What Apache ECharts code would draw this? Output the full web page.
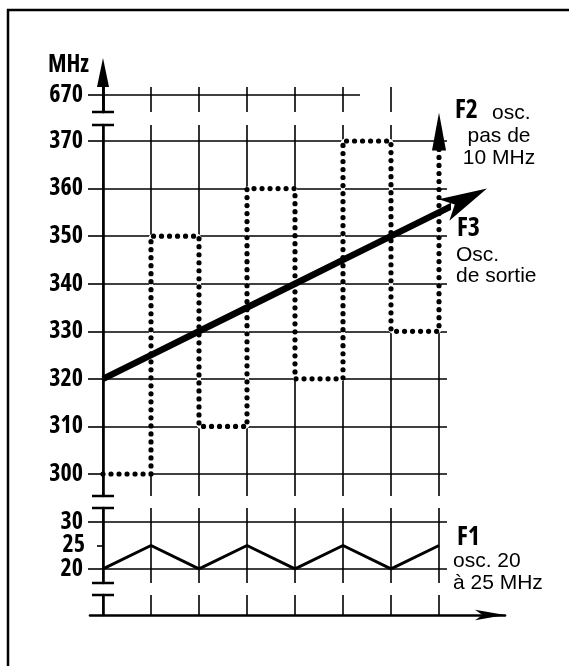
<!DOCTYPE html>
<html>
<head>
<meta charset="utf-8">
<script src="https://cdn.jsdelivr.net/npm/echarts@6/dist/echarts.min.js"></script>
<style>
  html, body { margin: 0; padding: 0; background: #fff; }
  #chart { width: 569px; height: 666px; }
</style>
</head>
<body>
<div id="chart"></div>
<script>
// columns of the diagram (time steps), index 0..7
const columns = [0, 1, 2, 3, 4, 5, 6, 7]
// F2: 10 MHz step oscillator, [column, MHz] (drawn as steps)
const f2Points = [[0, 300], [1, 350], [2, 310], [3, 360], [4, 320], [5, 370], [6, 330], [7, 372]]
// F3: output oscillator, [column, MHz]
const f3Points = [[0, 320], [1, 325], [2, 330], [3, 335], [4, 340], [5, 345], [6, 350], [7, 355], [8, 360]]
// F1: 20 to 25 MHz oscillator, [column, MHz]
const f1Points = [[0, 20], [1, 25], [2, 20], [3, 25], [4, 20], [5, 25], [6, 20], [7, 25]]
// tick labels
const topTicks = [670]
const upperTicks = [300, 310, 320, 330, 340, 350, 360, 370]
const lowerTicks = [20, 30]
const midTick = [25]

const black = '#000'
const tickFont = "'Open Sans', 'DejaVu Sans Condensed', sans-serif"
const textFont = "'Liberation Sans', Arial, sans-serif"

const tickLabel = {
  hideOverlap: false,
  margin: 20,
  color: black,
  fontFamily: tickFont,
  fontWeight: 'bold condensed',
  fontSize: 24,
  lineHeight: 18
}

// shared column axis for the three upper grids
function colAxis (gridIndex, ticks) {
  return {
    type: 'value',
    gridIndex: gridIndex,
    min: 0,
    max: 344 / 48,
    axisLine: { show: false },
    axisTick: { show: false, customValues: ticks },
    axisLabel: { show: false },
    splitLine: { show: true, lineStyle: { color: black, width: 1.6 } }
  }
}

// y axis with cut marks (small bars) on its ends
function cutAxis (gridIndex, min, max, ticks, symbol) {
  return {
    type: 'value',
    gridIndex: gridIndex,
    position: 'left',
    min: min,
    max: max,
    axisLine: {
      show: true,
      symbol: symbol,
      symbolSize: [22, 2.5],
      lineStyle: { color: black, width: 2.6 }
    },
    axisTick: { show: true, length: 15, customValues: ticks, lineStyle: { color: black, width: 1.6 } },
    axisLabel: Object.assign({ customValues: ticks }, tickLabel),
    splitLine: { show: true, lineStyle: { color: black, width: 1.6 } }
  }
}

function label (text, x, y, size, bold, align) {
  return {
    type: 'text',
    x: x,
    y: y,
    style: {
      text: text,
      fill: black,
      font: (bold ? 'bold semi-condensed ' : '') + size + 'px ' + (bold ? tickFont : textFont),
      textAlign: align || 'left',
      textVerticalAlign: 'middle'
    }
  }
}

let chart = echarts.init(document.getElementById('chart'))

let option = {
  backgroundColor: '#fff',
  animation: false,
  grid: [
    { left: 103, top: 87, width: 344, height: 25 }, // 670 row
    { left: 103, top: 125, width: 344, height: 371 }, // 300..370
    { left: 103, top: 508, width: 344, height: 75 }, // F1 20..30
    { left: 90, top: 595, width: 415, height: 20 } // time axis
  ],
  xAxis: [
    colAxis(0, [0, 1, 2, 3, 4, 5, 6]),
    colAxis(1, columns),
    colAxis(2, columns),
    {
      type: 'value',
      gridIndex: 3,
      min: -13 / 48,
      max: 402 / 48,
      axisLine: {
        show: true,
        symbol: ['none', 'arrow'],
        symbolSize: [8, 30],
        lineStyle: { color: black, width: 2.6 }
      },
      axisTick: { show: false, customValues: columns },
      axisLabel: { show: false },
      splitLine: { show: true, lineStyle: { color: black, width: 1.6 } }
    }
  ],
  yAxis: [
    Object.assign(cutAxis(0, 666, 666 + 25 / 4.25, topTicks, ['rect', 'none']), {
      splitLine: { show: false },
      name: 'MHz',
      nameLocation: 'end',
      nameGap: 22,
      nameTextStyle: {
        color: black,
        fontFamily: tickFont,
        fontWeight: 'bold condensed',
        fontSize: 24,
        align: 'right',
        verticalAlign: 'middle',
        padding: [0, 14, 0, 0]
      }
    }),
    {
      // arrow on top of the MHz axis
      type: 'value',
      gridIndex: 0,
      position: 'left',
      min: 0,
      max: 1,
      axisLine: {
        show: true,
        symbol: ['none', 'triangle'],
        symbolSize: [12, 29],
        symbolOffset: [0, 14.5],
        lineStyle: { color: black, width: 2.6 }
      },
      axisTick: { show: false },
      axisLabel: { show: false },
      splitLine: { show: false }
    },
    cutAxis(1, 300 - 22 / (333 / 70), 370 + 16 / (333 / 70), upperTicks, ['rect', 'rect']),
    cutAxis(2, 17, 33, lowerTicks, ['rect', 'rect']),
    {
      // small mark and label for 25
      type: 'value',
      gridIndex: 2,
      position: 'left',
      min: 17,
      max: 33,
      axisLine: { show: false },
      axisTick: { show: true, length: 6, customValues: midTick, lineStyle: { color: black, width: 1.6 } },
      axisLabel: Object.assign({ customValues: midTick }, tickLabel, { margin: 18 }),
      splitLine: { show: false }
    },
    {
      type: 'value',
      gridIndex: 3,
      position: 'left',
      min: 0,
      max: 1,
      axisLine: {
        show: true,
        symbol: ['none', 'rect'],
        symbolSize: [22, 2.5],
        lineStyle: { color: black, width: 2.6 }
      },
      axisTick: { show: false },
      axisLabel: { show: false },
      splitLine: { show: false }
    }
  ],
  series: [
    {
      // 670 line
      type: 'line',
      xAxisIndex: 0,
      yAxisIndex: 0,
      data: [[0, 670]],
      symbol: 'none',
      silent: true,
      markLine: {
        silent: true,
        symbol: 'none',
        label: { show: false },
        lineStyle: { color: black, width: 1.6, type: 'solid' },
        data: [[{ coord: [0, 670] }, { coord: [257 / 48, 670] }]]
      }
    },
    {
      // white under the dots, hides the grid behind F2
      type: 'line',
      xAxisIndex: 1,
      yAxisIndex: 2,
      step: 'end',
      data: f2Points,
      symbol: 'none',
      clip: false,
      silent: true,
      z: 3,
      lineStyle: { color: '#fff', width: 4 }
    },
    {
      name: 'F2',
      type: 'line',
      xAxisIndex: 1,
      yAxisIndex: 2,
      step: 'end',
      data: f2Points.map(function (p, i) {
        if (i === f2Points.length - 1) {
          return { value: p, symbol: 'triangle', symbolSize: [14, 38] }
        }
        return { value: p }
      }),
      symbol: 'none',
      clip: false,
      z: 4,
      itemStyle: { color: black },
      lineStyle: { color: black, width: 5.2, type: [0.01, 8], cap: 'round' }
    },
    {
      name: 'F3',
      type: 'line',
      xAxisIndex: 1,
      yAxisIndex: 2,
      data: f3Points.map(function (p, i) {
        if (i === f3Points.length - 1) {
          // arrow symbol has its tip on the point
          return { value: p, symbol: 'arrow', symbolSize: [18, 48], symbolRotate: -63.6 }
        }
        return { value: p }
      }),
      symbol: 'none',
      clip: false,
      z: 5,
      itemStyle: { color: black },
      lineStyle: { color: black, width: 6.5 }
    },
    {
      name: 'F1',
      type: 'line',
      xAxisIndex: 2,
      yAxisIndex: 3,
      data: f1Points,
      symbol: 'none',
      z: 4,
      lineStyle: { color: black, width: 3 }
    }
  ],
  graphic: [
    // frame of the scanned figure
    { type: 'line', shape: { x1: 7, y1: 10, x2: 569, y2: 10 }, style: { stroke: black, lineWidth: 2.5 } },
    { type: 'line', shape: { x1: 8, y1: 9, x2: 8, y2: 666 }, style: { stroke: black, lineWidth: 2.5 } },
    label('F2', 455, 111, 26, true),
    label('osc.', 492, 113, 21, false),
    label('pas de', 499, 136, 21, false, 'center'),
    label('10 MHz', 499, 158, 21, false, 'center'),
    label('F3', 457, 229, 26, true),
    label('Osc.', 456, 255, 21, false),
    label('de sortie', 456, 276, 21, false),
    label('F1', 457, 538, 26, true),
    label('osc. 20', 453, 561, 21, false),
    label('à 25 MHz', 453, 583, 21, false)
  ]
}

chart.setOption(option)
</script>
</body>
</html>
